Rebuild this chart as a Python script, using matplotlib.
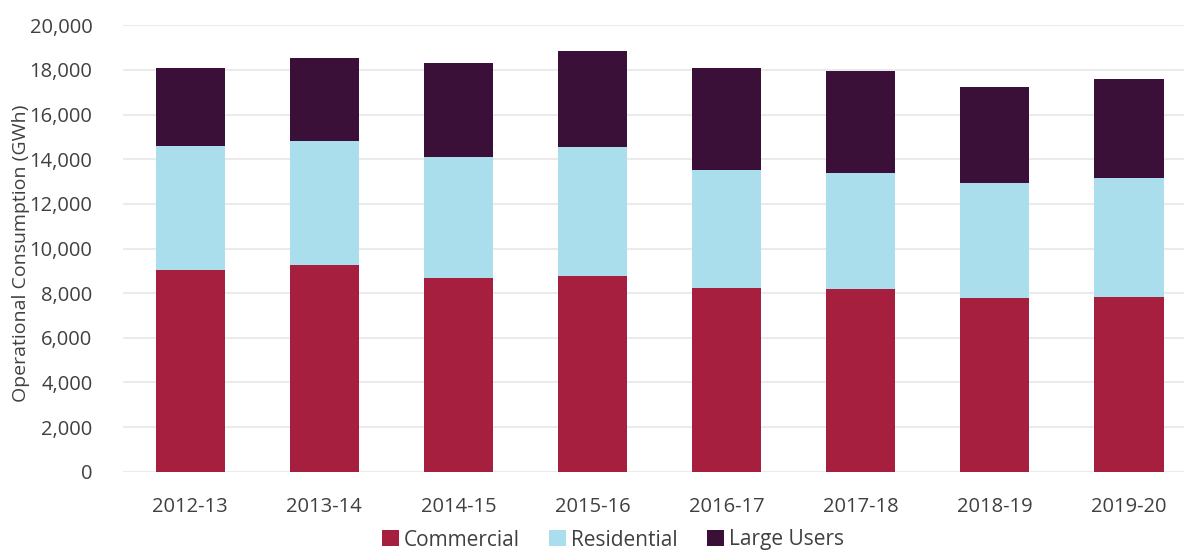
import matplotlib
matplotlib.use("Agg")
import matplotlib.pyplot as plt
from matplotlib.ticker import FuncFormatter
import numpy as np

years = ["2012-13", "2013-14", "2014-15", "2015-16", "2016-17", "2017-18", "2018-19", "2019-20"]
commercial = [9020, 9260, 8670, 8770, 8220, 8170, 7770, 7810]
residential = [5570, 5570, 5440, 5790, 5280, 5230, 5160, 5330]
large_users = [3480, 3690, 4220, 4300, 4570, 4570, 4320, 4440]

c_com = "#A61F3E"
c_res = "#ABDEEC"
c_lu = "#3A0F38"
txt = "#404040"

plt.rcParams['font.family'] = ['Open Sans', 'DejaVu Sans']

W, H = 1184, 551
fig = plt.figure(figsize=(W/100, H/100), dpi=100)
left_px, right_px, bot_px, top_px = 123, 1184, 471.7, 25.3
ax = fig.add_axes([left_px/W, 1-bot_px/H, (right_px-left_px)/W, (bot_px-top_px)/H])

x = np.arange(len(years))
w = 0.515
com = np.array(commercial)
res = np.array(residential)
lu = np.array(large_users)
ax.bar(x, com, w, color=c_com, label="Commercial", zorder=3)
ax.bar(x, res, w, bottom=com, color=c_res, label="Residential", zorder=3)
ax.bar(x, lu, w, bottom=com + res, color=c_lu, label="Large Users", zorder=3)

ax.set_ylim(0, 20000)
ax.set_xlim(-0.5, 7.41)
ax.set_yticks(np.arange(0, 20001, 2000))
ax.yaxis.set_major_formatter(FuncFormatter(lambda v, p: f"{int(v):,}"))
ax.set_xticks(x)
ax.set_xticklabels(years)
ax.grid(axis="y", color="#ebebeb", linewidth=1.5, zorder=0)
for s in ax.spines.values():
    s.set_visible(False)
ax.tick_params(axis="both", length=0, labelsize=14.5, labelcolor=txt)
ax.tick_params(axis="y", pad=22)
ax.tick_params(axis="x", pad=18)
ax.set_ylabel("Operational Consumption (GWh)", fontsize=14, color=txt)
ax.yaxis.set_label_coords((30-left_px)/(right_px-left_px), 0.49)

fig.legend(loc="center", bbox_to_anchor=(613/W, 1-540/H), ncol=3, frameon=False,
           fontsize=15, handlelength=0.8, handleheight=0.8, handletextpad=0.25,
           columnspacing=1.4, labelcolor=txt, borderaxespad=0, borderpad=0)

fig.savefig("out.png", dpi=100)
